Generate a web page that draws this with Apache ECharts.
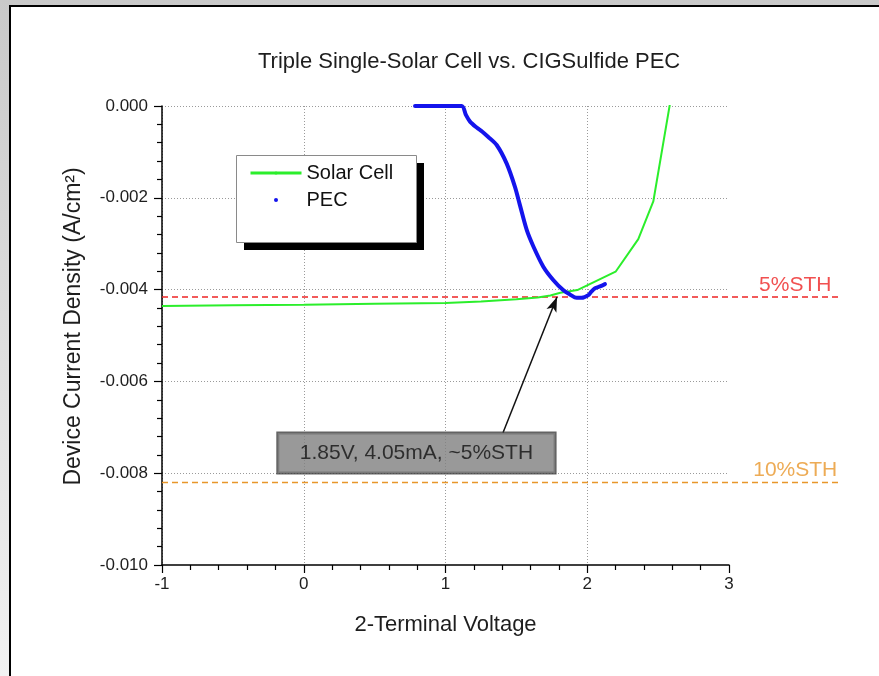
<!DOCTYPE html>
<html>
<head>
<meta charset="utf-8">
<script src="https://cdn.jsdelivr.net/npm/echarts@6/dist/echarts.min.js"></script>
<style>
html,body{margin:0;padding:0;}
#chart{width:879px;height:676px;}
</style>
</head>
<body>
<div id="chart"></div>
<script>
// ---- data ----
const titleText = 'Triple Single-Solar Cell vs. CIGSulfide PEC';
const xAxisName = '2-Terminal Voltage';
const yAxisName = 'Device Current Density (A/cm\u00B2)';
const xRange = [-1, 3];
const xStep = 1;
const yRange = [-0.010, 0];
const yStep = 0.002;

const solarName = 'Solar Cell';
const solarV = [-1, -0.5, 0, 0.5, 1, 1.25, 1.5, 1.65, 1.74, 1.81, 1.93, 2.2, 2.36, 2.466, 2.584];
const solarJ = [-0.00436, -0.00434, -0.00433, -0.00431, -0.00429, -0.00426, -0.00421, -0.00417, -0.00413, -0.00407, -0.00401, -0.00361, -0.0029, -0.00208, 0.00006];

const pecName = 'PEC';
const pecV = [0.785, 0.9, 1.0, 1.114, 1.145, 1.173, 1.22, 1.26, 1.3, 1.361, 1.431, 1.49, 1.525, 1.573, 1.62, 1.69, 1.76, 1.83, 1.88, 1.925, 1.96, 2.008, 2.03, 2.055, 2.09, 2.125];
const pecJ = [0, 0, 0, 0, -0.0002, -0.00034, -0.00047, -0.00056, -0.00067, -0.00085, -0.00125, -0.00176, -0.00216, -0.0027, -0.00306, -0.0035, -0.00379, -0.00401, -0.00411, -0.00418, -0.00418, -0.00412, -0.00404, -0.00397, -0.00393, -0.00388];

const sthNames = ['5%STH', '10%STH'];
const sthLevels = [-0.00416, -0.0082];
const sthXRange = [-1, 3.8];
const sthLabelV = 3.47;

const annotationText = '1.85V, 4.05mA, ~5%STH';
const annotationAt = [0.795, -0.00756];
const arrowFrom = [1.4056, -0.00712];
const arrowTo = [1.7866, -0.00416];

// ---- build ----
const zip = (a, b) => a.map((v, i) => [v, b[i]]);
const FONT = '"Liberation Sans", Arial, sans-serif';
const sthColors = ['#ee2424', '#e8962a'];

const chart = echarts.init(document.getElementById('chart'), null, {renderer: 'canvas'});

const series = [
  {
    name: solarName, type: 'line', data: zip(solarV, solarJ),
    symbol: 'none', lineStyle: {color: '#2bee2b', width: 2}, itemStyle: {color: '#2bee2b'},
    z: 3
  },
  {
    name: pecName, type: 'line', data: zip(pecV, pecJ), smooth: 0.3,
    symbol: 'none', lineStyle: {color: '#1414ec', width: 4, cap: 'round', join: 'round'},
    itemStyle: {color: '#1414ec'}, z: 4
  }
];
sthNames.forEach((nm, i) => {
  series.push({
    name: nm, type: 'line', xAxisIndex: 1, yAxisIndex: 1, symbol: 'none',
    data: sthXRange.map(v => [v, sthLevels[i]]),
    lineStyle: {color: sthColors[i], width: 1.5, type: [6, 4]}, z: 2
  });
  series.push({
    name: nm + ' label', type: 'scatter', xAxisIndex: 1, yAxisIndex: 1, symbolSize: 1,
    itemStyle: {color: 'rgba(0,0,0,0)'},
    data: [[sthLabelV, sthLevels[i]]],
    label: {show: true, position: 'top', distance: 1, formatter: nm,
      color: sthColors[i], fontSize: 21, fontFamily: FONT}
  });
});
series.push({
  name: 'annotation', type: 'scatter', symbolSize: 1,
  itemStyle: {color: 'rgba(0,0,0,0)'},
  data: [annotationAt], z: 6,
  label: {show: true, position: 'inside', formatter: annotationText,
    fontSize: 21, fontFamily: FONT, color: '#111',
    backgroundColor: '#808080', borderColor: '#3c3c3c', borderWidth: 1.5,
    padding: [9, 22], lineHeight: 22},
  markLine: {
    silent: true, animation: false, symbol: ['none', 'arrow'], symbolSize: [8, 15],
    lineStyle: {color: '#111', width: 1.5, type: 'solid'},
    label: {show: false},
    data: [[{coord: arrowFrom}, {coord: arrowTo}]]
  }
});

const legendBox = {x: 236, y: 155, w: 180, h: 87, shadow: 8};

const option = {
  animation: false,
  backgroundColor: new echarts.graphic.LinearGradient(0, 0, 0, 1, [
    {offset: 0, color: '#c9c9c9'}, {offset: 1, color: '#f2f2f2'}]),
  graphic: [
    {
      type: 'rect', left: 9, top: 5, z: -100, silent: true,
      shape: {width: 1000, height: 1000},
      style: {fill: '#fff', stroke: '#000', lineWidth: 2}
    },
    {
      type: 'rect', left: legendBox.x + legendBox.shadow, top: legendBox.y + legendBox.shadow, z: 3, silent: true,
      shape: {width: legendBox.w, height: legendBox.h},
      style: {fill: '#000'}
    },
    {
      type: 'rect', left: legendBox.x, top: legendBox.y, z: 3, silent: true,
      shape: {width: legendBox.w, height: legendBox.h},
      style: {fill: '#fff', stroke: '#8a8a8a', lineWidth: 1}
    }
  ],
  title: {
    text: titleText, left: 258, top: 51, padding: 0,
    textStyle: {fontSize: 22, fontWeight: 'normal', color: '#1e1e1e', fontFamily: FONT}
  },
  legend: {
    data: [{name: solarName, lineStyle: {width: 3}}, {name: pecName, icon: 'circle'}],
    orient: 'vertical', left: legendBox.x, top: legendBox.y,
    itemWidth: 51, itemHeight: 4, itemGap: 7,
    padding: [8, 22, 31, 13],
    textStyle: {fontSize: 20, color: '#111', fontFamily: FONT},
    selectedMode: false, z: 5
  },
  grid: [
    {left: 162, right: 150, top: 106, bottom: 111, containLabel: false},
    {left: 162, right: 37, top: 106, bottom: 111, containLabel: false}
  ],
  xAxis: [{
    type: 'value', min: xRange[0], max: xRange[1], interval: xStep,
    name: xAxisName, nameLocation: 'middle', nameGap: 49,
    nameTextStyle: {fontSize: 22, color: '#1e1e1e', fontFamily: FONT},
    axisLine: {onZero: false, lineStyle: {color: '#000', width: 1.5}},
    axisTick: {show: true, inside: false, length: 8, lineStyle: {color: '#000', width: 1.2}},
    minorTick: {show: true, splitNumber: 5, length: 5, lineStyle: {color: '#000', width: 1.2}},
    axisLabel: {fontSize: 17, color: '#1e1e1e', fontFamily: FONT, margin: 11},
    splitLine: {show: true, showMaxLine: false, lineStyle: {color: '#9a9a9a', width: 1, type: [1, 2]}}
  }, {
    type: 'value', gridIndex: 1, min: sthXRange[0], max: sthXRange[1], show: false
  }],
  yAxis: [{
    type: 'value', min: yRange[0], max: yRange[1], interval: yStep,
    name: yAxisName, nameLocation: 'middle', nameGap: 77, nameRotate: 90,
    nameTextStyle: {fontSize: 23, color: '#1e1e1e', fontFamily: FONT, padding: [0, 0, 0, 18]},
    axisLine: {onZero: false, lineStyle: {color: '#000', width: 1.5}},
    axisTick: {show: true, inside: false, length: 8, lineStyle: {color: '#000', width: 1.2}},
    minorTick: {show: true, splitNumber: 5, length: 5, lineStyle: {color: '#000', width: 1.2}},
    axisLabel: {fontSize: 17, color: '#1e1e1e', fontFamily: FONT, margin: 14,
      formatter: v => (Math.abs(v) < 1e-12 ? 0 : v).toFixed(3)},
    splitLine: {show: true, showMinLine: false, lineStyle: {color: '#9a9a9a', width: 1, type: [1, 2]}}
  }, {
    type: 'value', gridIndex: 1, min: yRange[0], max: yRange[1], show: false
  }],
  series: series
};
chart.setOption(option);
</script>
</body>
</html>
